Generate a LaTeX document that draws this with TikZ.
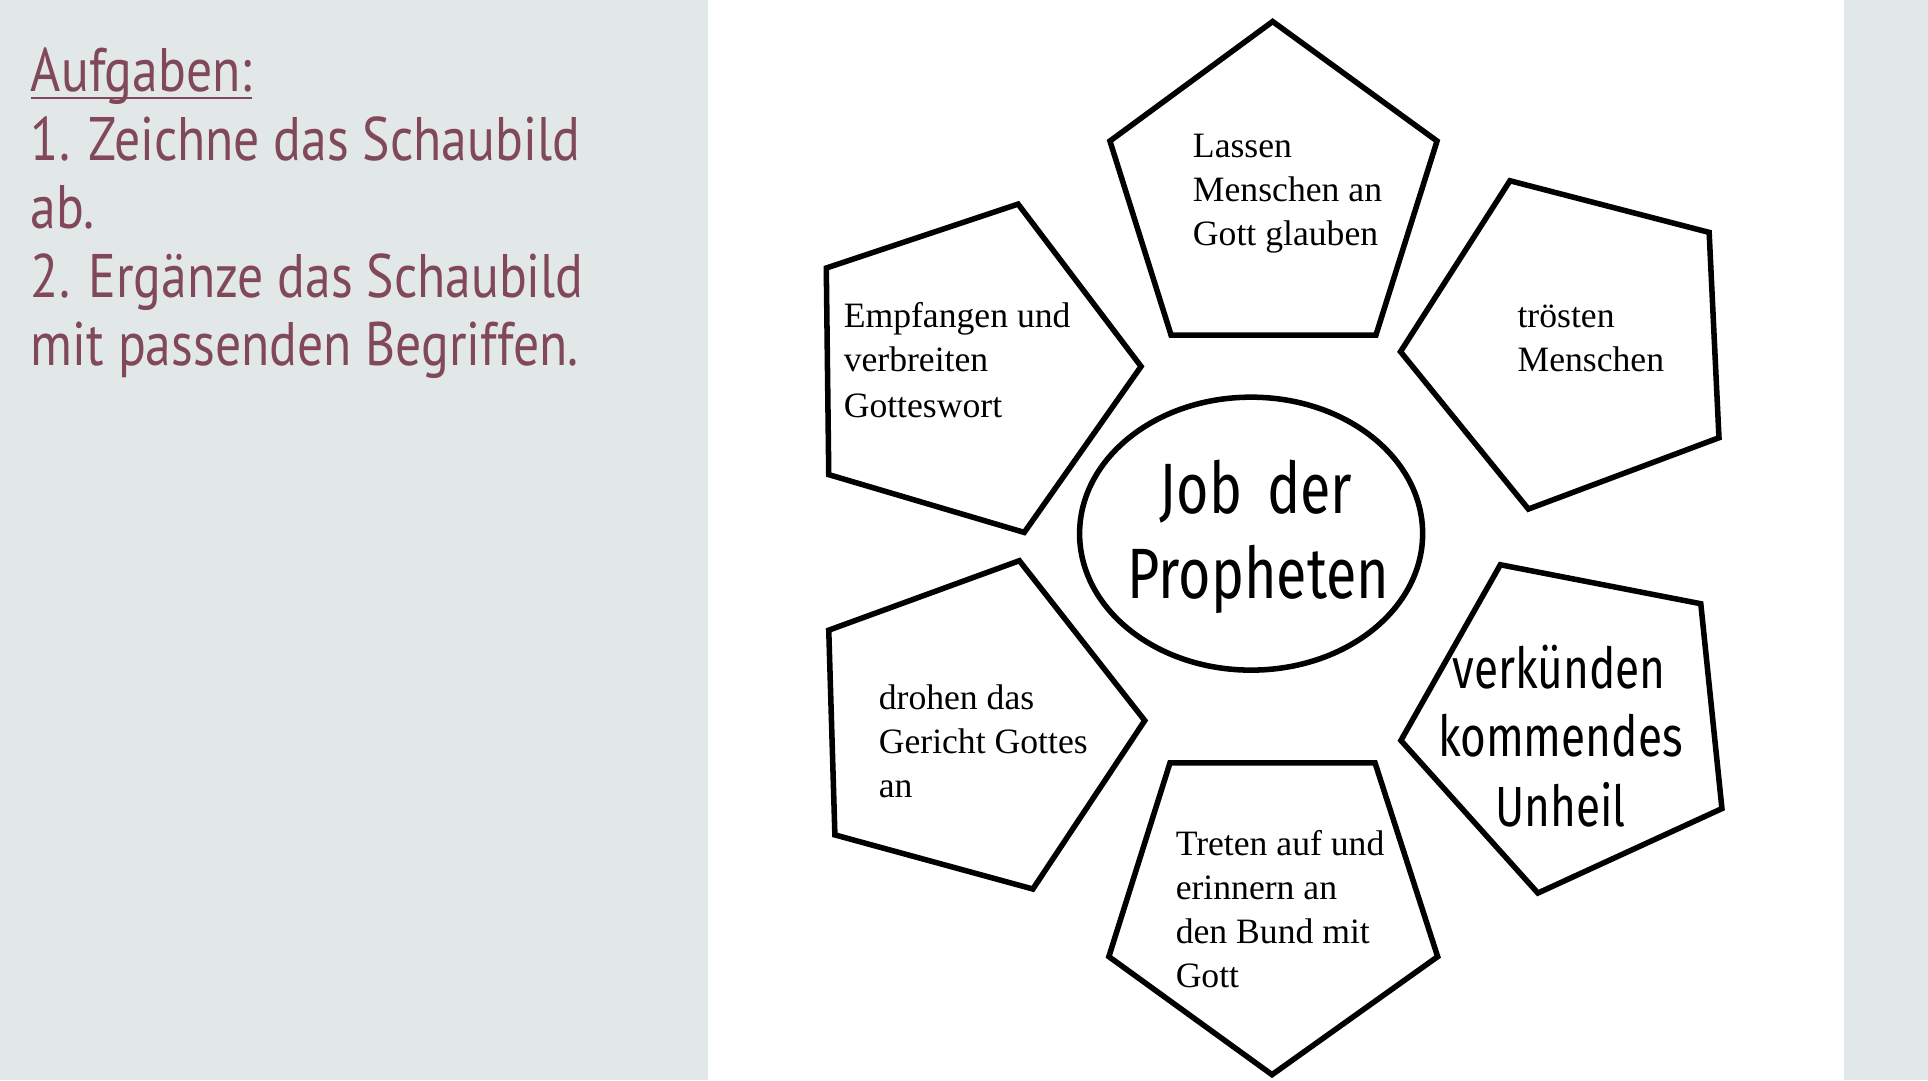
\documentclass[tikz,border=0pt]{standalone}
\usepackage{fontspec}
\setmainfont{Liberation Serif}
\newfontfamily\taskfont[FakeStretch=0.84]{PT Sans}
\newfontfamily\handfont[FakeStretch=0.78]{Fira Sans}
\definecolor{panelgrey}{RGB}{226,231,231}
\definecolor{taskred}{RGB}{128,72,88}
\begin{document}
\begin{tikzpicture}[x=1pt,y=-1pt,
  penta/.style={draw=black,line width=4.5pt,line join=miter,fill=white},
  oval/.style={draw=black,line width=4.5pt,fill=white},
  tasktext/.style={anchor=base west,inner sep=0pt,text=taskred,font=\taskfont\fontsize{50}{56}\selectfont},
  boxtext/.style={anchor=base west,inner sep=0pt,font=\fontsize{29}{35.5}\selectfont},
  handtext/.style={anchor=base,inner sep=0pt,font=\handfont\fontsize{46}{56}\selectfont},
  bigtext/.style={anchor=base,inner sep=0pt,font=\handfont\fontsize{58}{70}\selectfont}]
\useasboundingbox (0,0) rectangle (1568,878.34);
\fill[white] (0,0) rectangle (1568,878.34);
\fill[panelgrey] (0,0) rectangle (576,878.34);
\fill[panelgrey] (1500,0) rectangle (1568,878.34);
% task text
\node[tasktext] (t0) at (25,74.2) {Aufgaben:};
\draw[taskred,line width=2pt] ([yshift=-5.6pt]t0.base west) -- ([yshift=-5.6pt]t0.base east);
\node[tasktext] (t1) at (25,130.3) {1. Zeichne das Schaubild};
\node[tasktext] (t2) at (25,186.2) {ab.};
\node[tasktext] (t3) at (25,242.2) {2. Ergänze das Schaubild};
\node[tasktext] (t4) at (25,297.4) {mit passenden Begriffen.};
% pentagons
\draw[penta] (1035,17.5) -- (1168.7,114.7) -- (1119,272.5) -- (952.4,272.5) -- (902.7,114.7) -- cycle;
\draw[penta] (1228,147) -- (1390,189) -- (1398,356) -- (1243,414) -- (1139,286) -- cycle;
\draw[penta] (828,166) -- (928,298) -- (833,433) -- (674,386) -- (672,218) -- cycle;
\draw[penta] (829,456) -- (931,586) -- (840,723) -- (679,679) -- (674,512.5) -- cycle;
\draw[penta] (951.5,620.5) -- (1118.3,620.5) -- (1169.2,778) -- (1034.5,874) -- (901.8,778) -- cycle;
\draw[penta] (1220.2,459.3) -- (1383.2,491) -- (1400.4,657.6) -- (1250.7,726.3) -- (1139.3,602.2) -- cycle;
\draw[oval] (1017.5,434) ellipse [x radius=139.5, y radius=111];
% box texts
\node[boxtext] (a1) at (970,128.3) {Lassen};
\node[boxtext] (a2) at (970,163.8) {Menschen an};
\node[boxtext] (a3) at (970,199.3) {Gott glauben};
\node[boxtext] (b1) at (1234,266) {trösten};
\node[boxtext] (b2) at (1234,301.9) {Menschen};
\node[boxtext] (c1) at (686,266) {Empfangen und};
\node[boxtext] (c2) at (686,302.4) {verbreiten};
\node[boxtext] (c3) at (686,339.4) {Gotteswort};
\node[boxtext] (d1) at (714.5,577) {drohen das};
\node[boxtext] (d2) at (714.5,612.8) {Gericht Gottes};
\node[boxtext] (d3) at (714.5,648.7) {an};
\node[boxtext] (e1) at (956,695.4) {Treten auf und};
\node[boxtext] (e2) at (956,731.8) {erinnern an};
\node[boxtext] (e3) at (956,767.4) {den Bund mit};
\node[boxtext] (e4) at (956,803.3) {Gott};
\node[handtext] (f1) at (1268,560.2) {verkünden};
\node[handtext] (f2) at (1269,615) {kommendes};
\node[handtext] (f3) at (1269,672.2) {Unheil};
\node[bigtext] (g1) at (1021.5,417.3) {Job\hspace{0.35em}der};
\node[bigtext] (g2) at (1023.5,487) {Propheten};
\end{tikzpicture}
\end{document}
